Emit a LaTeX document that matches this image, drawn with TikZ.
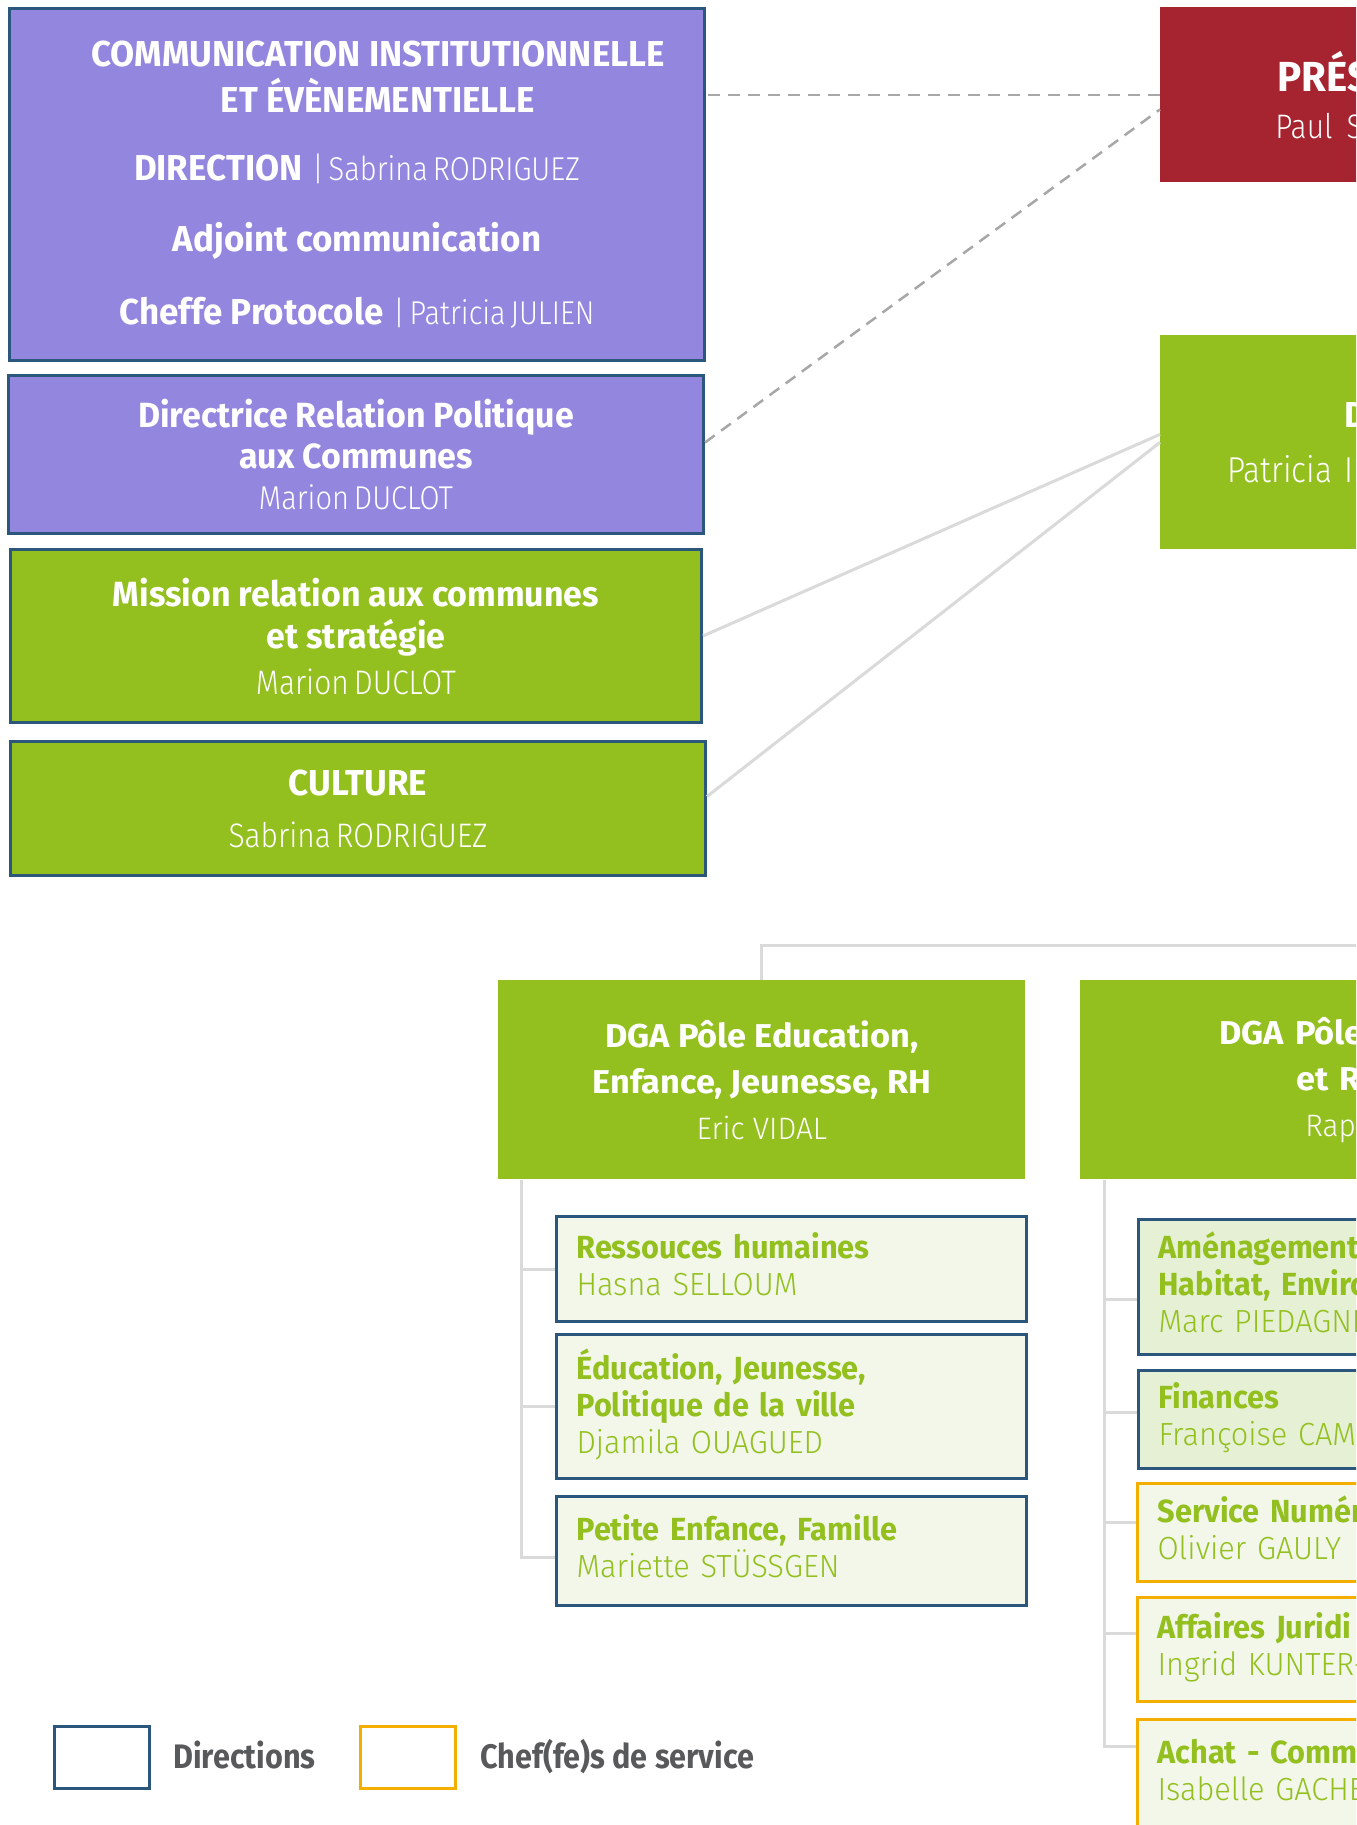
\documentclass[tikz,border=0pt]{standalone}
\usepackage{fontspec}
\setmainfont{Fira Sans}
\newfontfamily\etroit{Fira Sans}[FakeStretch=0.97]
\newfontfamily\etroitfin{Fira Sans Light}[FakeStretch=0.88,WordSpace=0.6]
\newfontfamily\plein{Fira Sans}[FakeStretch=0.96]
\newfontfamily\pleinfin{Fira Sans Light}[FakeStretch=0.96]
\newfontfamily\dga{Fira Sans}[FakeStretch=1.04]
\newfontfamily\legfont{Fira Sans}[FakeStretch=0.9]
\newcommand\pied{\rule[-5pt]{0pt}{5pt}}
\definecolor{lila}{HTML}{9386DF}
\definecolor{vert}{HTML}{93C01F}
\definecolor{rouge}{HTML}{A6242F}
\definecolor{bleu}{HTML}{2B577C}
\definecolor{jaune}{HTML}{F3AE00}
\definecolor{pale}{HTML}{F2F7EA}
\definecolor{paleb}{HTML}{E6F0D5}
\definecolor{trait}{HTML}{DADADA}
\definecolor{tiret}{HTML}{A7A7A7}
\definecolor{gris}{HTML}{58595B}
\begin{document}
\begin{tikzpicture}[x=0.5pt,y=-0.5pt,
	boite/.style={draw=bleu,line width=1.5pt,fill=#1,text=white,align=center,anchor=north west,inner sep=0pt},
	pave/.style={fill=#1,text=white,anchor=north west,inner sep=0pt},
	service/.style={draw=#1,line width=1.5pt,fill=pale,text=vert,align=left,anchor=north west,inner xsep=10pt,inner ysep=0pt,text width=215pt,font=\fontsize{16}{18.5}\selectfont},
	lien/.style={draw=trait,line width=1.5pt},
	tirets/.style={draw=tiret,line width=1.25pt,dash pattern=on 6pt off 4pt},
	legende/.style={draw=#1,line width=1.5pt,minimum width=47.5pt,minimum height=31pt,inner sep=0pt},
	legtxt/.style={text=gris,anchor=base west,inner sep=0pt,font=\legfont\bfseries\fontsize{17}{20}\selectfont}]
		\useasboundingbox (0,0) rectangle (1356,1825);
		\clip (0,0) rectangle (1356,1825);
		\node[boite=lila,minimum width=347.5pt,minimum height=176pt,font=\fontsize{18}{23}\selectfont] (comm) at (8,7) {%
			\hspace*{21pt}{\etroit\bfseries COMMUNICATION INSTITUTIONNELLE}\\
			\hspace*{21pt}{\etroit\bfseries ET ÉVÈNEMENTIELLE}\\[11pt]
			{\etroit\bfseries DIRECTION} {\etroitfin\fontsize{16.5}{23}\selectfont\textbar\ Sabrina RODRIGUEZ}\\[12.5pt]
			{\etroit\bfseries Adjoint communication}\\[13.5pt]
			{\etroit\bfseries Cheffe Protocole} {\etroitfin\fontsize{16.5}{23}\selectfont\textbar\ Patricia JULIEN}};
		\node[boite=lila,minimum width=347.5pt,minimum height=79pt,font=\fontsize{17.5}{20.5}\selectfont] (drp) at (7,374) {%
			{\etroit\bfseries Directrice Relation Politique}\\
			{\etroit\bfseries aux Communes}\\
			{\etroitfin\fontsize{16.5}{20.5}\selectfont Marion DUCLOT}};
		\node[boite=vert,minimum width=345.5pt,minimum height=86.5pt,font=\fontsize{17.5}{21}\selectfont] (mission) at (9,548) {%
			{\etroit\bfseries Mission relation aux communes}\\
			{\etroit\bfseries et stratégie}\\[2pt]
			{\etroitfin\fontsize{17}{21}\selectfont Marion DUCLOT}};
		\node[boite=vert,minimum width=347.5pt,minimum height=67pt,font=\fontsize{18}{26}\selectfont] (culture) at (9,740) {%
			{\etroit\bfseries CULTURE}\\
			{\etroitfin\fontsize{17}{26}\selectfont Sabrina RODRIGUEZ}};
		\node[pave=rouge,minimum height=87.5pt,text width=180pt,inner xsep=57.5pt,align=left,font=\fontsize{21}{23.5}\selectfont] (pres) at (1160,7) {%
			\hspace*{1pt}{\plein\bfseries PRÉSIDENT}\\
			{\etroitfin\fontsize{17}{23.5}\selectfont Paul S}};
		\node[pave=vert,minimum height=107pt,text width=200pt,inner xsep=33.5pt,align=left,font=\fontsize{18}{27.5}\selectfont] (dg) at (1160,335) {%
			\hspace*{58.5pt}{\plein\bfseries D}\\
			{\etroitfin Patricia IN}};
		\node[pave=vert,align=center,minimum width=263.5pt,minimum height=99.5pt,font=\fontsize{16.5}{23}\selectfont] (dga1) at (498,980) {%
			{\dga\bfseries DGA Pôle Education,}\\
			{\dga\bfseries Enfance, Jeunesse, RH}\\
			{\pleinfin\fontsize{15.5}{23}\selectfont Eric VIDAL}};
		\node[pave=vert,align=left,text width=220pt,inner xsep=69.5pt,minimum height=99.5pt,font=\fontsize{16.5}{23}\selectfont] (dga2) at (1080,980) {%
			{\dga\bfseries DGA Pôle}\\
			\hspace*{38.5pt}{\dga\bfseries et R}\\
			\hspace*{43pt}{\pleinfin\fontsize{15.5}{23}\selectfont Rap}};
		\node[service=bleu,minimum height=52.5pt] (rh) at (555,1215) {{\plein\bfseries Ressouces humaines}\\{\pleinfin Hasna SELLOUM}\pied};
		\node[service=bleu,minimum height=72pt] (edu) at (555,1333) {{\plein\bfseries Éducation, Jeunesse,}\\{\plein\bfseries Politique de la ville}\\{\pleinfin Djamila OUAGUED}\pied};
		\node[service=bleu,minimum height=54.5pt] (pe) at (555,1495) {{\plein\bfseries Petite Enfance, Famille}\\{\pleinfin Mariette STÜSSGEN}\pied};
		\node[service=bleu,fill=paleb,minimum height=67.5pt] (amen) at (1137,1218) {{\plein\bfseries Aménagement}\\{\plein\bfseries Habitat, Enviro}\\{\pleinfin Marc PIEDAGNE}\pied};
		\node[service=bleu,fill=paleb,minimum height=49pt] (fin) at (1137,1369) {{\plein\bfseries Finances}\\{\pleinfin Françoise CAM}\pied};
		\node[service=jaune,minimum height=49pt] (num) at (1136,1482) {{\plein\bfseries Service Numér}\\{\pleinfin Olivier GAULY}\pied};
		\node[service=jaune,minimum height=52pt] (jur) at (1136,1596) {{\plein\bfseries Affaires Juridi}\\{\pleinfin Ingrid KUNTER-}\pied};
		\node[service=jaune,minimum height=55pt] (achat) at (1136,1718) {{\plein\bfseries Achat - Comma}\\{\pleinfin Isabelle GACHE}\pied};
		\draw[tirets] (pres.west) -- (pres.west -| comm.east);
		\draw[tirets] ([yshift=6pt]drp.east) -- ([yshift=-7.25pt]pres.west);
		\draw[lien] (mission.east) -- ([yshift=4pt]dg.west);
		\draw[lien] ([yshift=6pt]culture.east) -- (dg.west);
		\coordinate (bus) at (1360,945);
		\draw[lien] (dga1.north) |- (bus);
		\coordinate (rail1) at ([xshift=11.5pt]dga1.south west);
		\draw[lien] (rail1) |- ([yshift=-3pt]pe.west);
		\foreach \s in {rh,edu}
			\draw[lien] (\s.west) -- (\s.west -| rail1);
		\coordinate (rail2) at ([xshift=12pt]dga2.south west);
		\draw[lien] (rail2) |- ([yshift=14pt]achat.west);
		\draw[lien] ([yshift=-6.25pt]amen.west) -- ([yshift=-6.25pt]amen.west -| rail2);
		\draw[lien] ([yshift=3.5pt]fin.west) -- ([yshift=3.5pt]fin.west -| rail2);
		\draw[lien] ([yshift=5pt]num.west) -- ([yshift=5pt]num.west -| rail2);
		\draw[lien] ([yshift=8.25pt]jur.west) -- ([yshift=8.25pt]jur.west -| rail2);
		\node[legende=bleu] (legdir) at (101.5,1757) {};
		\node[legtxt] (txtdir) at (173,1768) {Directions};
		\node[legende=jaune] (legchef) at (407.5,1757) {};
		\node[legtxt] (txtchef) at (480,1768) {Chef(fe)s de service};
	\end{tikzpicture}
\end{document}
